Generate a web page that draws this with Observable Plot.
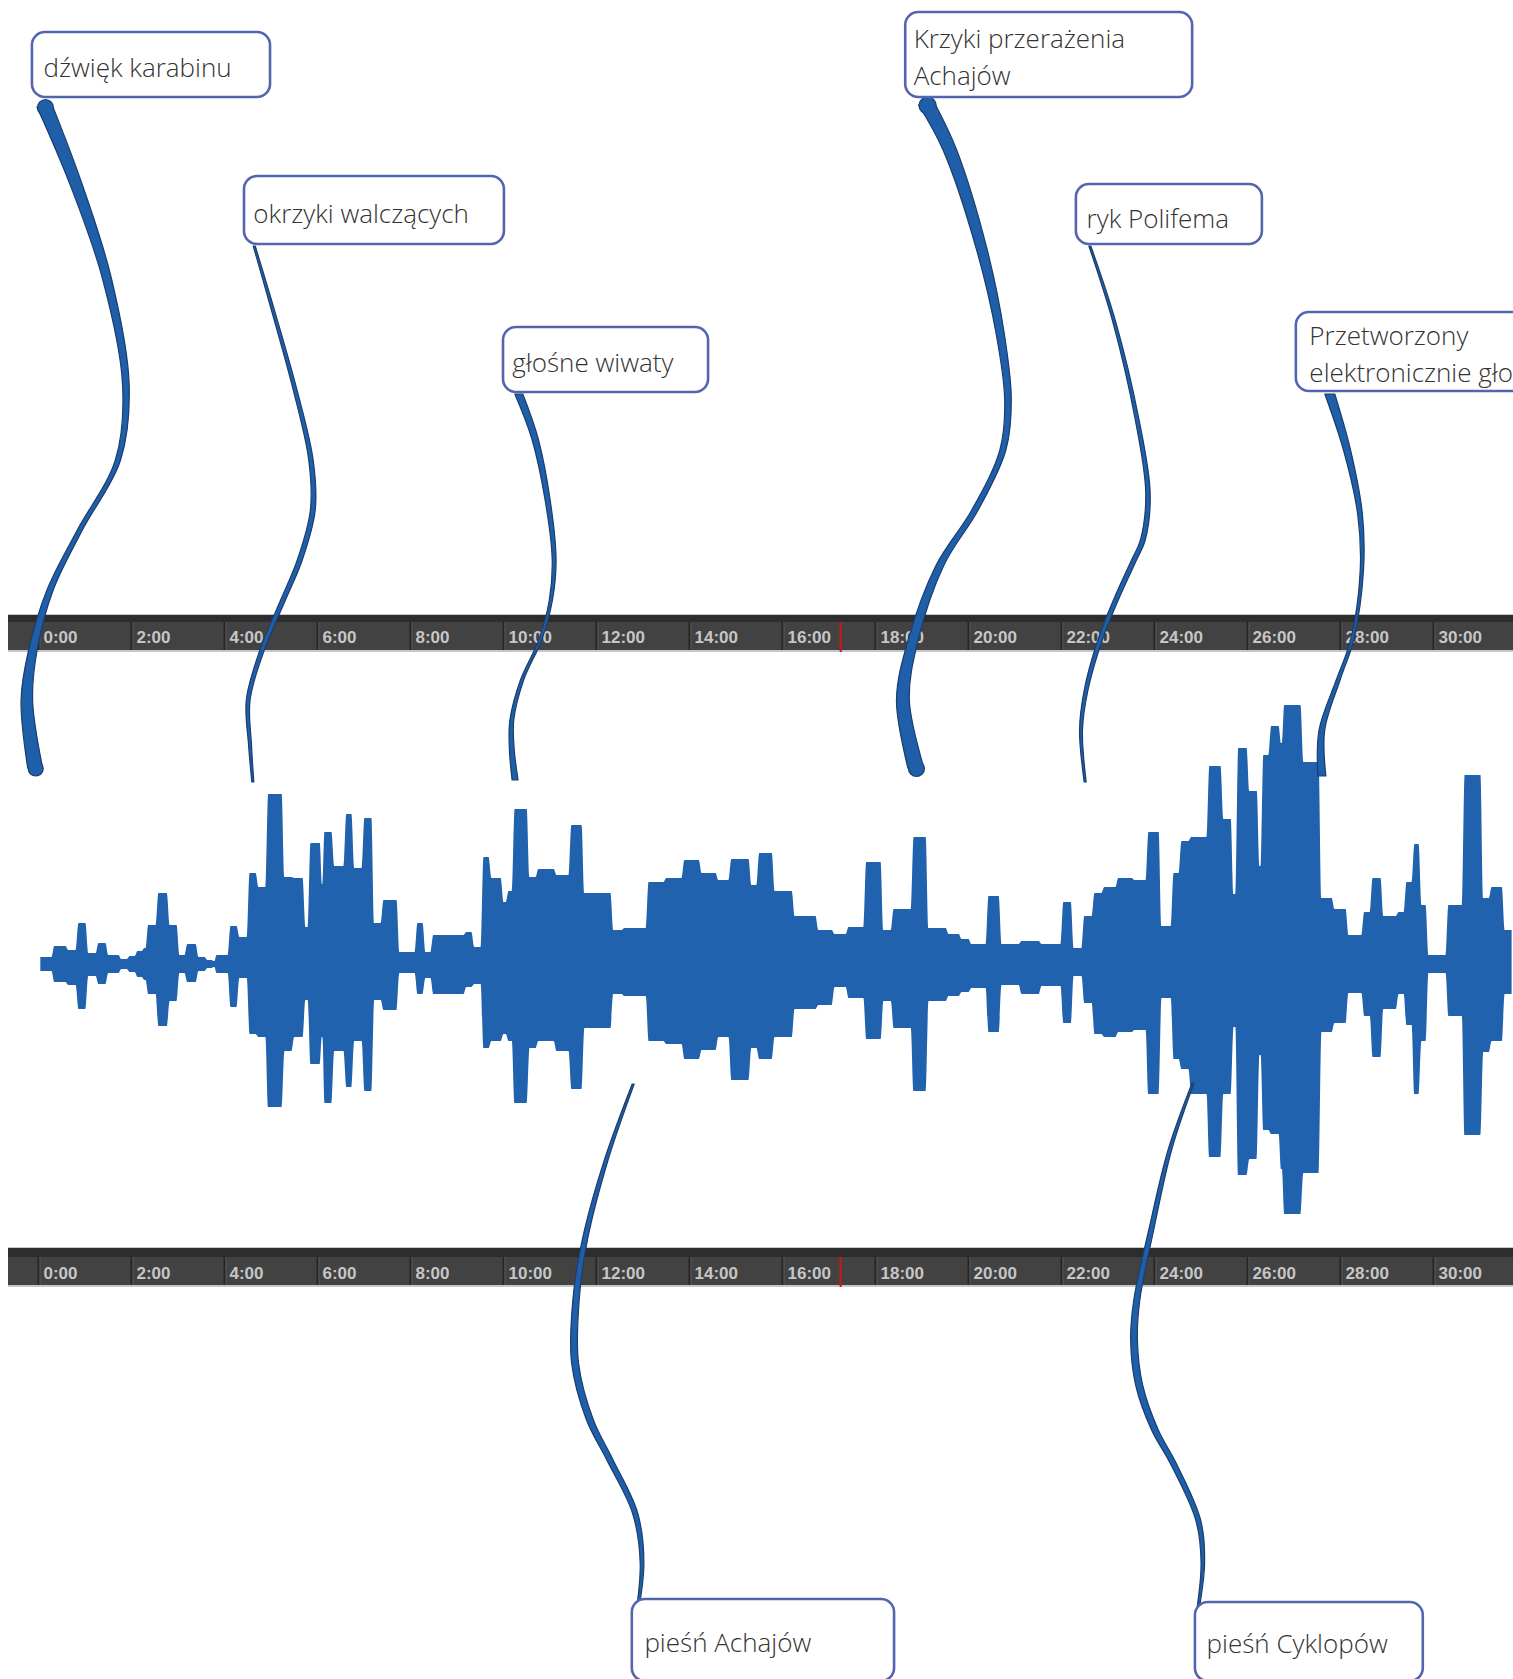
<!DOCTYPE html>
<html>
<head>
<meta charset="utf-8">
<script src="https://cdn.jsdelivr.net/npm/d3@7"></script>
<script src="https://cdn.jsdelivr.net/npm/@observablehq/plot@0.6"></script>
<style>
  html, body { margin: 0; padding: 0; background: #fff; overflow: hidden; }
  #chart svg { overflow: hidden; display: block; }
</style>
</head>
<body>
<div id="chart"></div>
<script>
// ---------------- DATA ----------------
// Waveform envelope: segment start (minutes), upper and lower amplitude
const segStart = [0.02,0.32,0.62,0.84,1.05,1.27,1.48,1.76,1.94,2.11,
  2.26,2.34,2.56,2.80,3.01,3.18,3.42,3.61,3.76,3.81,
  4.11,4.30,4.52,4.71,4.92,5.27,5.48,5.72,5.83,6.09,
  6.13,6.34,6.60,6.77,6.99,7.20,7.40,7.74,8.13,8.30,
  8.47,9.18,9.35,9.55,9.72,9.98,10.09,10.22,10.54,10.73,
  11.12,11.44,11.72,12.34,12.58,13.10,13.48,13.87,14.24,14.60,
  14.88,15.31,15.48,15.81,16.24,16.75,17.10,17.40,17.78,18.15,
  18.37,18.80,19.12,19.55,19.83,20.04,20.41,20.69,21.12,21.55,
  22.02,22.24,22.47,22.69,22.90,23.20,23.55,23.85,24.13,24.39,
  24.56,24.77,25.16,25.46,25.68,25.78,26.02,26.24,26.32,26.49,
  26.71,26.77,27.18,27.57,27.85,28.15,28.49,28.67,28.90,29.23,
  29.40,29.57,29.72,29.87,30.30,30.65,31.05,31.23,31.51];
const segTop = [7,18,14,41,11,21,9,5,8,13,
  16,39,71,39,9,20,7,4,3,9,
  38,27,91,77,170,87,86,37,121,80,
  132,98,150,96,146,41,64,12,41,12,
  29,32,17,107,86,62,73,155,87,95,
  89,139,71,34,36,82,86,104,91,84,
  105,79,111,73,48,34,30,37,102,34,
  55,127,36,30,25,20,68,20,23,20,
  62,16,48,71,77,86,84,132,38,91,
  123,127,198,145,70,216,173,98,209,238,
  221,259,202,66,55,29,52,86,48,52,
  82,120,59,9,59,189,66,77,34];
const segBottom = [7,18,21,45,12,20,9,5,8,13,
  16,30,62,37,9,18,7,4,3,9,
  43,14,70,73,143,87,73,36,100,73,
  139,87,123,77,127,36,46,9,30,14,
  30,23,20,84,77,70,77,139,84,77,
  87,125,64,30,32,77,80,95,86,73,
  116,84,95,73,45,41,23,34,75,37,
  64,127,37,32,28,24,68,21,30,22,
  59,12,39,70,73,68,66,130,34,95,
  105,130,193,130,63,211,195,91,166,170,
  205,250,209,68,59,29,52,93,45,30,
  61,130,77,9,52,171,88,77,30];
const waveEnd = 31.72;

// Time ruler
const tickMinutes = [0,2,4,6,8,10,12,14,16,18,20,22,24,26,28,30];
const tickLabels = ["0:00","2:00","4:00","6:00","8:00","10:00","12:00","14:00","16:00","18:00","20:00","22:00","24:00","26:00","28:00","30:00"];
const playhead = 17.25;

// Callouts
const calloutLabels = ["dźwięk karabinu","okrzyki walczących","głośne wiwaty","Krzyki przerażenia\nAchajów","ryk Polifema","Przetworzony\nelektronicznie głos","pieśń Achajów","pieśń Cyklopów"];
const calloutTime  = [0.11, 4.62, 10.19, 18.82, 22.54, 27.33, 13.03, 25.12];
const calloutLevel = [899.5, 753.5, 604.5, 910, 748.5, 613, -675.5, -676.5];
const boxT1 = [-0.13, 4.43, 10.00, 18.65, 22.32, 27.05, 12.77, 24.88];
const boxT2 = [4.99, 10.02, 14.41, 24.82, 26.32, 32.3, 18.41, 29.78];
const boxL1 = [867, 720, 572, 867, 720, 573, -717, -717];
const boxL2 = [932, 788, 637, 952, 780, 652, -635, -638];

// Connector paths (minutes, level) from each box to the waveform
const tailT = [
  [0.15,0.80,1.48,1.89,1.72,0.90,0.26,-0.11,-0.24,-0.06],
  [4.65,4.99,5.53,5.87,5.91,5.63,5.27,4.82,4.52,4.56,4.62],
  [10.34,10.69,10.97,11.10,11.03,10.80,10.41,10.19,10.19,10.26],
  [19.12,19.61,20.30,20.69,20.86,20.75,20.15,19.40,18.82,18.60,18.88],
  [22.62,23.14,23.63,23.87,23.76,23.57,23.18,22.84,22.54,22.43,22.52],
  [27.78,28.15,28.43,28.47,28.26,27.96,27.61,27.61],
  [12.80,12.22,11.76,11.57,11.55,11.87,12.30,12.84,12.99,12.86],
  [24.84,24.34,23.94,23.63,23.57,23.68,24.02,24.41,24.95,25.05,24.92]
];
const tailY = [
  [857,782,686,579,504,434,374,314,264,196],
  [718,664,574,504,454,404,364,314,264,219,182],
  [570,525,461,404,364,324,284,244,214,184],
  [859,814,714,631,564,514,454,399,324,264,196],
  [718,643,546,471,424,404,364,324,274,234,182],
  [570,514,450,394,324,284,234,188],
  [-120,-196,-276,-336,-399,-456,-496,-549,-599,-656],
  [-119,-186,-266,-336,-376,-421,-466,-499,-556,-599,-653]
];

// ---------------- LAYOUT / STYLE ----------------
const W = 1513, H = 1679;
const xDomain = [-0.817, 31.72];
const yDomain = [-715, 964];
const pxPerMin = W / (xDomain[1] - xDomain[0]);
const rulerStart = -0.645;
const rulers = [
  {top: 349, strip: 342, bottom: 314, edge: 312, label: 327},
  {top: -284, strip: -293, bottom: -321, edge: -323, label: -309}
];
// width profile of each connector: [top, middle, bottom] in px
const tailWidth = [[16,5,15],[2,5,2],[8,3,6],[17,6,16],[2,5,2],[10,3,8],[2,7,2],[2,7,2]];
const roundCaps = [true,false,false,true,false,false,false,false];
const BLUE = "#2062ad", TAILFILL = "#1f5fa9", TAILEDGE = "#1b3d6c";
const edgeInset = 1.4 / pxPerMin; // soft corners of the waveform blocks

// ---------------- BUILD ----------------
const wave = [];
segStart.forEach((t, i) => {
  const t1 = i < segStart.length - 1 ? segStart[i + 1] : waveEnd;
  const d = Math.min(edgeInset, (t1 - t) / 3);
  wave.push({t: t + d, hi: segTop[i], lo: -segBottom[i]});
  wave.push({t: t1 - d, hi: segTop[i], lo: -segBottom[i]});
});

const rulerLayers = rulers.flatMap(r => [
  {y1: r.edge, y2: r.top + 1, fill: "#c4c7cb"},
  {y1: r.bottom, y2: r.top, fill: "#2d2d2d"},
  {y1: r.bottom, y2: r.strip, fill: "#424242"}
]);
const seps = rulers.flatMap(r => tickMinutes.map(t => ({t, y1: r.bottom, y2: r.strip})));
const labels = rulers.flatMap(r => tickMinutes.map((t, i) => ({t, y: r.label, text: tickLabels[i]})));
const heads = rulers.map(r => ({t: playhead, y1: r.edge, y2: r.strip}));

const callouts = calloutLabels.map((label, i) => ({
  label, tx: calloutTime[i], ty: calloutLevel[i],
  x1: boxT1[i], x2: boxT2[i], y1: boxL1[i], y2: boxL2[i]
}));

const tailMarks = [];
const capOuter = [], capInner = [];
tailT.forEach((ts, k) => {
  const n = ts.length;
  const [wt, wm, wb] = tailWidth[k];
  const rows = ts.map((t, i) => {
    const s = i / (n - 1);
    const base = wt * (1 - s) + wb * s;
    const w = base + (wm - (wt + wb) / 2) * Math.sin(Math.PI * s);
    return {t, y: tailY[k][i], hw: w / 2 / pxPerMin, w};
  });
  if (roundCaps[k]) {
    [rows[0], rows[n - 1]].forEach(p => {
      capOuter.push({t: p.t, y: p.y, r: p.w / 2 + 0.6});
      capInner.push({t: p.t, y: p.y, r: p.w / 2 - 0.6});
    });
  }
  tailMarks.push(Plot.areaX(rows, {
    y: "y", x1: d => d.t - d.hw, x2: d => d.t + d.hw,
    curve: "catmull-rom", fill: TAILFILL, stroke: TAILEDGE, strokeWidth: 1.2
  }));
});

const chart = Plot.plot({
  width: W, height: H,
  margin: 0, marginTop: 0, marginRight: 0, marginBottom: 0, marginLeft: 0,
  x: {domain: xDomain, axis: null},
  y: {domain: yDomain, axis: null},
  r: {type: "identity"},
  style: {background: "#fff", overflow: "hidden"},
  marks: [
    // time rulers
    Plot.rect(rulerLayers, {x1: rulerStart, x2: xDomain[1], y1: "y1", y2: "y2", fill: "fill"}),
    Plot.ruleX(seps, {x: "t", y1: "y1", y2: "y2", stroke: "#262626", strokeWidth: 2}),
    Plot.ruleX(seps, {x: "t", y1: "y1", y2: "y2", stroke: "#575757", strokeWidth: 1, dx: 1.5}),
    Plot.text(labels, {x: "t", y: "y", text: "text", dx: 5, textAnchor: "start",
      fill: "#c6c6c6", fontWeight: "bold", fontSize: 17, fontFamily: "Liberation Sans, Arial, sans-serif"}),
    Plot.ruleX(heads, {x: "t", y1: "y1", y2: "y2", stroke: "#d41414", strokeWidth: 2}),
    // waveform
    Plot.areaY(wave, {x: "t", y1: "lo", y2: "hi", curve: "monotone-x", fill: BLUE}),
    // connectors
    Plot.dot(capOuter, {x: "t", y: "y", r: "r", fill: TAILEDGE, stroke: "none"}),
    ...tailMarks,
    Plot.dot(capInner, {x: "t", y: "y", r: "r", fill: TAILFILL, stroke: "none"}),
    // callout boxes
    Plot.rect(callouts, {x1: "x1", x2: "x2", y1: "y1", y2: "y2", rx: 13, fill: "#fff", stroke: "#5465b0", strokeWidth: 2.6}),
    Plot.text(callouts, {x: "tx", y: "ty", text: "label", textAnchor: "start", lineAnchor: "middle",
      fontSize: 26, lineHeight: 1.42, fill: "#333", fontFamily: "Open Sans, Noto Sans, sans-serif", fontWeight: 300})
  ]
});
document.getElementById("chart").appendChild(chart);
</script>
</body>
</html>
